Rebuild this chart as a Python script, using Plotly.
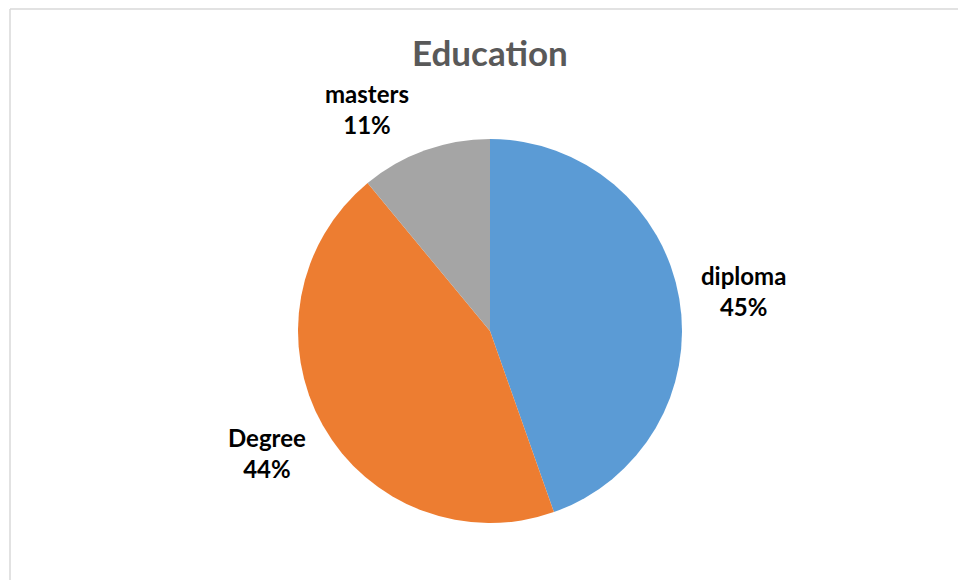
import plotly.graph_objects as go

labels = ["diploma", "Degree", "masters"]
values = [44.6, 44.4, 11.0]
colors = ["#5B9BD5", "#ED7D31", "#A5A5A5"]
title_text = "Education"

W, H = 958, 580
cx, cy, r = 490, 331, 192

fig = go.Figure(go.Pie(
    labels=labels, values=values, sort=False, direction="clockwise", rotation=0,
    marker=dict(colors=colors, line=dict(color="white", width=0)),
    textinfo="none", hoverinfo="label+percent", showlegend=False,
    domain=dict(x=[(cx - r) / W, (cx + r) / W], y=[(H - cy - r) / H, (H - cy + r) / H]),
))

total = sum(values)
label_pos = {"diploma": (743, 291), "Degree": (267, 453), "masters": (367, 109)}
for lab, v in zip(labels, values):
    x, y = label_pos[lab]
    fig.add_annotation(x=x / W, y=1 - y / H, xref="paper", yref="paper",
                       text=f"<b>{lab}<br>{round(100 * v / total)}%</b>", showarrow=False,
                       font=dict(family="Lato", size=24, color="#000000"),
                       xanchor="center", yanchor="middle", align="center")

fig.add_annotation(x=cx / W, y=1 - 52 / H, xref="paper", yref="paper", text=f"<b>{title_text}</b>",
                   showarrow=False, font=dict(family="Lato", size=35, color="#595959"),
                   xanchor="center", yanchor="middle")

# chart border (left and top visible)
fig.add_shape(type="line", xref="paper", yref="paper", x0=10 / W, x1=1, y0=1 - 9 / H, y1=1 - 9 / H,
              line=dict(color="#D9D9D9", width=1.5))
fig.add_shape(type="line", xref="paper", yref="paper", x0=10 / W, x1=10 / W, y0=0, y1=1 - 9 / H,
              line=dict(color="#D9D9D9", width=1.5))

fig.update_layout(width=W, height=H, margin=dict(l=0, r=0, t=0, b=0),
                  paper_bgcolor="white", plot_bgcolor="white")

fig.write_html("out.html")
